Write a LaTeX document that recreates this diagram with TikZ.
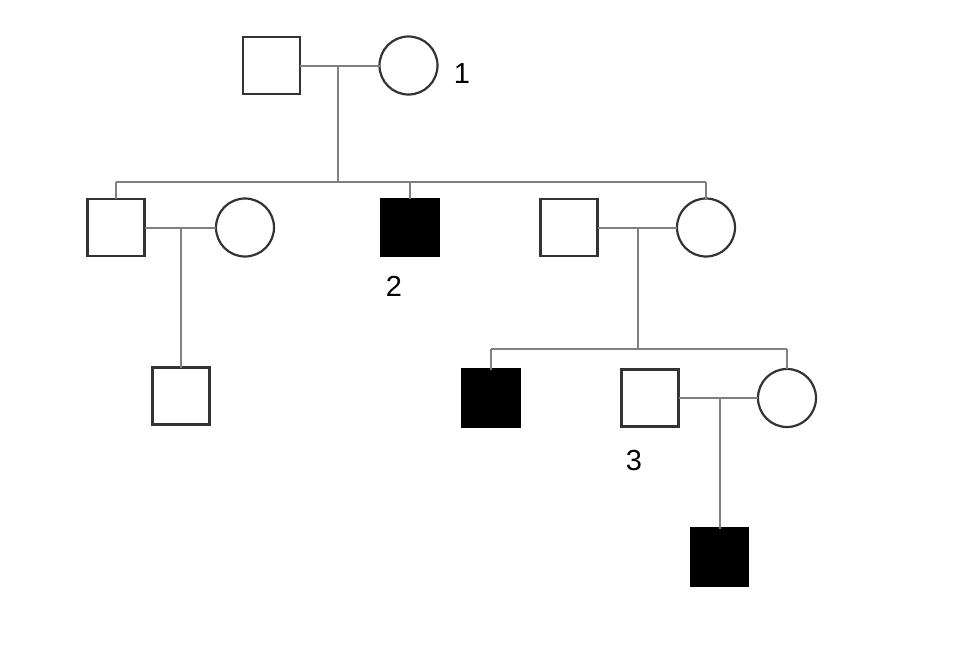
\documentclass[tikz,border=0pt]{standalone}
\usepackage{fontspec}
\setmainfont{Liberation Sans}
\begin{document}
\begin{tikzpicture}[x=1pt,y=-1pt,
  person/.style={draw=black!80, line width=2.2pt, fill=white, inner sep=0pt, outer sep=0pt},
  male/.style={person, rectangle, minimum size=57pt},
  female/.style={person, circle, minimum size=58pt},
  affected/.style={fill=black, draw=black},
  link/.style={draw=black!50, line width=2pt},
  lbl/.style={font=\fontsize{29}{32}\selectfont, inner sep=0pt}]
\useasboundingbox (0,0) rectangle (961,667);
% generation I
\node[male] (g1m) at (271.5,65.5) {};
\node[female] (g1f) at (408.5,65.5) {};
\node[lbl] (l1) at (462,74) {1};
\coordinate (m1) at (338,65.5);
\coordinate (s1) at (338,182);
\coordinate (s1l) at (116,182);
\coordinate (s1r) at (706,182);
% generation II
\node[male] (a) at (116,227.5) {};
\node[female] (aw) at (245,227.5) {};
\node[male,affected] (b) at (410,227.5) {};
\node[lbl] (l2) at (394,286) {2};
\node[male] (ch) at (569,227.5) {};
\node[female] (c) at (706,227.5) {};
\coordinate (m2) at (181,227.5);
\coordinate (m3) at (638,227.5);
\coordinate (s3) at (638,349);
\coordinate (s3l) at (491,349);
\coordinate (s3r) at (787,349);
% generation III
\node[male] (d) at (181,396) {};
\node[male,affected] (e) at (491,398) {};
\node[male] (f) at (650,398) {};
\node[female] (fw) at (787,398) {};
\node[lbl] (l3) at (634,461) {3};
\coordinate (m4) at (719.5,398);
% generation IV
\node[male,affected] (g) at (719.5,557) {};
% connectors
\draw[link] (g1m.east) -- (g1f.west);
\draw[link] (m1) -- (s1);
\draw[link] (s1l) -- (s1r);
\draw[link] (s1l) -- (a.north);
\draw[link] (s1 -| b.north) -- (b.north);
\draw[link] (s1r) -- (c.north);
\draw[link] (a.east) -- (aw.west);
\draw[link] (m2) -- (d.north);
\draw[link] (ch.east) -- (c.west);
\draw[link] (m3) -- (s3);
\draw[link] (s3l) -- (s3r);
\draw[link] (s3l) -- (e.north);
\draw[link] (s3r) -- (fw.north);
\draw[link] (f.east) -- (fw.west);
\draw[link] (m4) -- (g.north);
\end{tikzpicture}
\end{document}
